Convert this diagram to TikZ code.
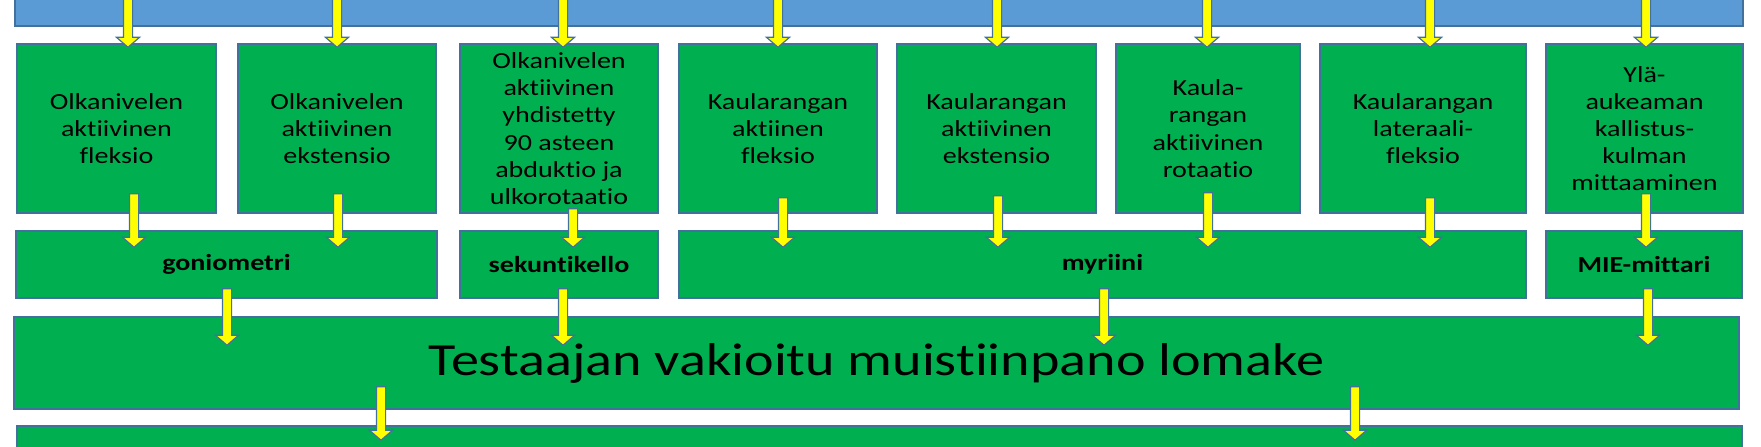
\documentclass[tikz,border=0pt]{standalone}
\usepackage{fontspec}
\setmainfont[FakeStretch=1.22,Ligatures=NoCommon]{Carlito}
\usetikzlibrary{calc}
\definecolor{sininen}{HTML}{5B9BD5}
\definecolor{vihrea}{HTML}{00B050}
\definecolor{reuna}{HTML}{41719C}
\definecolor{keltainen}{HTML}{FFFF00}
\tikzset{
  laatikko/.style={draw=reuna, fill=vihrea, line width=.75pt, inner sep=0pt, align=center,
    font=\fontsize{11.5pt}{13.6pt}\selectfont},
  mittari/.style={laatikko, font=\fontsize{11.5pt}{13.6pt}\selectfont\bfseries},
  nuoli/.style={draw=reuna, fill=keltainen, line width=.6pt, line join=miter,
    to path={let \p1=(\tikztostart), \p2=(\tikztotarget) in
      (\x1-2.3pt,\y1) -- (\x1+2.3pt,\y1) -- (\x1+2.3pt,\y2+5pt) -- (\x1+5.8pt,\y2+5pt)
      -- (\x1,\y2) -- (\x1-5.8pt,\y2+5pt) -- (\x1-2.3pt,\y2+5pt) -- cycle}}
}
\begin{document}
\begin{tikzpicture}[x=.5pt,y=-.5pt]
    \useasboundingbox (0,0) rectangle (1761,446);
    \clip (0,0) rectangle (1761,446);

    \node[laatikko,fill=sininen,minimum width=864pt,minimum height=23pt] (ylin) at (879,3) {};

    \node[laatikko,minimum width=99.5pt,minimum height=84.5pt] (o1) at (116.5,128.5) {Olkanivelen\\aktiivinen\\fleksio};
    \node[laatikko,minimum width=99pt,minimum height=84.5pt] (o2) at (337,128.5) {Olkanivelen\\aktiivinen\\ekstensio};
    \node[laatikko,minimum width=99pt,minimum height=84.5pt] (o3) at (559,128.5) {Olkanivelen\\aktiivinen\\yhdistetty\\90 asteen\\abduktio ja\\ulkorotaatio};
    \node[laatikko,minimum width=99pt,minimum height=84.5pt] (k1) at (778,128.5) {Kaularangan\\aktiinen\\fleksio};
    \node[laatikko,minimum width=99.5pt,minimum height=84.5pt] (k2) at (996.5,128.5) {Kaularangan\\aktiivinen\\ekstensio};
    \node[laatikko,minimum width=92pt,minimum height=84.5pt] (k3) at (1208,128.5) {Kaula-\\rangan\\aktiivinen\\rotaatio};
    \node[laatikko,minimum width=103pt,minimum height=84.5pt] (k4) at (1423,128.5) {Kaularangan\\lateraali-\\fleksio};
    \node[laatikko,minimum width=98.5pt,minimum height=84.5pt] (y1) at (1644.5,128.5) {Ylä-\\aukeaman\\kallistus-\\kulman\\mittaaminen};

    \node[mittari,minimum width=210.5pt,minimum height=33.5pt] (gon) at (226.5,264.5) {goniometri};
    \node[mittari,minimum width=99pt,minimum height=33.5pt] (sek) at (559,264.5) {sekuntikello};
    \node[mittari,minimum width=423.5pt,minimum height=33.5pt] (myr) at (1102.5,264.5) {myriini};
    \node[mittari,minimum width=98pt,minimum height=33.5pt] (mie) at (1644,264.5) {MIE-mittari};

    \node[laatikko,minimum width=862.5pt,minimum height=46pt,font=\fontsize{23pt}{27pt}\selectfont] (lom) at (876.5,363) {Testaajan vakioitu muistiinpano lomake};
    \node[laatikko,minimum width=862.5pt,minimum height=22pt] (alin) at (879.5,448) {};

    \draw[nuoli] ([shift={(-751,0)}]ylin.north) to ([shift={(0,4)}]o1.north);
    \draw[nuoli] ([shift={(-542,0)}]ylin.north) to ([shift={(0,4)}]o2.north);
    \draw[nuoli] ([shift={(-316,0)}]ylin.north) to ([shift={(0,4)}]o3.north);
    \draw[nuoli] ([shift={(-101,0)}]ylin.north) to ([shift={(0,4)}]k1.north);
    \draw[nuoli] ([shift={(118,0)}]ylin.north) to ([shift={(0,4)}]k2.north);
    \draw[nuoli] ([shift={(328,0)}]ylin.north) to ([shift={(0,4)}]k3.north);
    \draw[nuoli] ([shift={(551,0)}]ylin.north) to ([shift={(0,4)}]k4.north);
    \draw[nuoli] ([shift={(767,0)}]ylin.north) to ([shift={(0,4)}]y1.north);

    \draw[nuoli] ([shift={(17.5,-20)}]o1.south) to ([shift={(0,17)}]gon.north);
    \draw[nuoli] ([shift={(1,-20)}]o2.south) to ([shift={(0,17)}]gon.north);
    \draw[nuoli] ([shift={(14,-5)}]o3.south) to ([shift={(0,17)}]sek.north);
    \draw[nuoli] ([shift={(5,-16)}]k1.south) to ([shift={(0,17)}]myr.north);
    \draw[nuoli] ([shift={(1.5,-18)}]k2.south) to ([shift={(0,17)}]myr.north);
    \draw[nuoli] ([shift={(0,-21)}]k3.south) to ([shift={(0,17)}]myr.north);
    \draw[nuoli] ([shift={(7,-16)}]k4.south) to ([shift={(0,17)}]myr.north);
    \draw[nuoli] ([shift={(1.5,-20)}]y1.south) to ([shift={(0,17)}]mie.north);

    \draw[nuoli] ([shift={(.5,-10)}]gon.south) to ([shift={(0,29)}]lom.north);
    \draw[nuoli] ([shift={(4,-10)}]sek.south) to ([shift={(0,29)}]lom.north);
    \draw[nuoli] ([shift={(1.5,-10)}]myr.south) to ([shift={(0,29)}]lom.north);
    \draw[nuoli] ([shift={(4,-10)}]mie.south) to ([shift={(0,29)}]lom.north);

    \draw[nuoli] ([shift={(-495.5,-23)}]lom.south) to ([shift={(0,15)}]alin.north);
    \draw[nuoli] ([shift={(478.5,-23)}]lom.south) to ([shift={(0,15)}]alin.north);
\end{tikzpicture}
\end{document}
